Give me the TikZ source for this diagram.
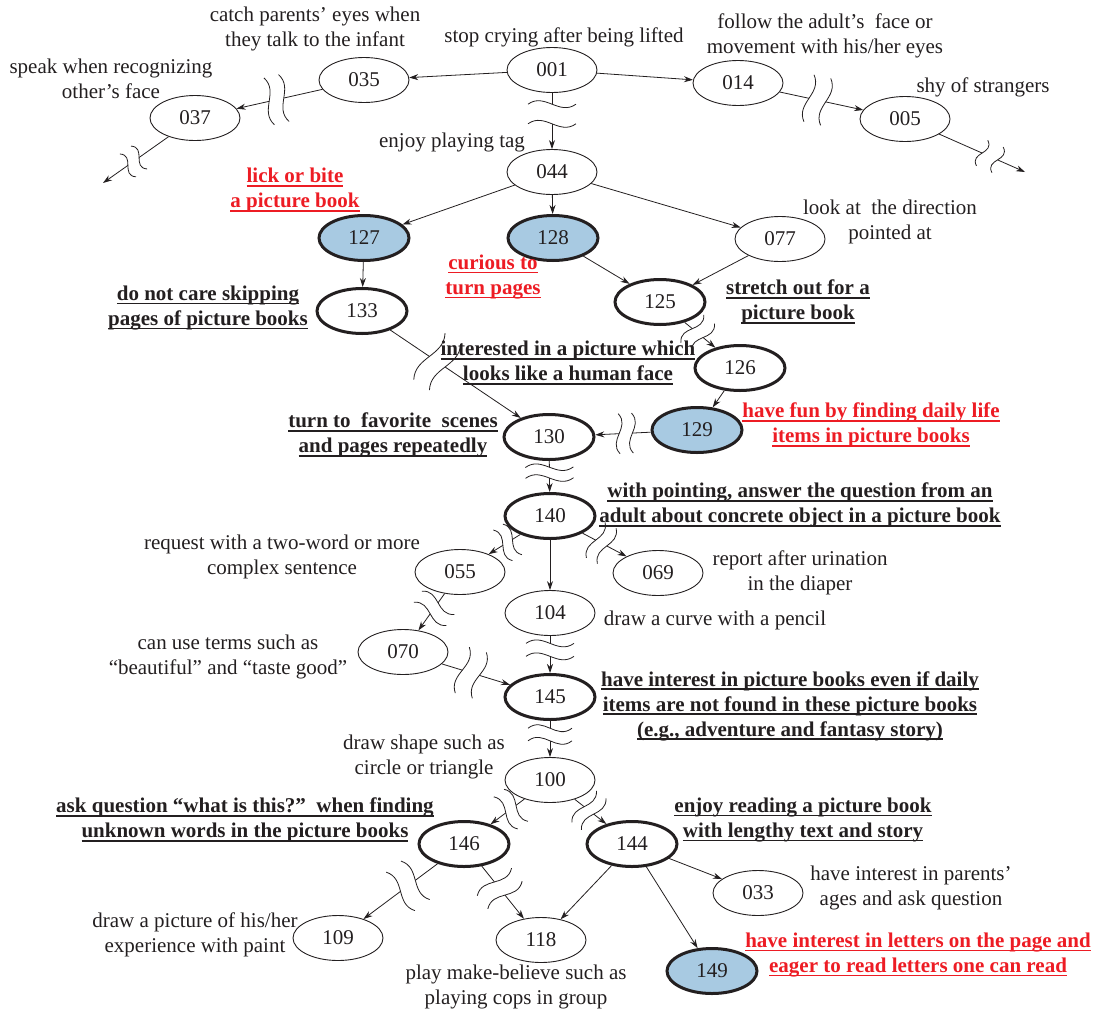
\documentclass[tikz,border=0pt]{standalone}
\usepackage{fontspec}
\setmainfont{Liberation Serif}
\usetikzlibrary{arrows.meta,shapes.geometric}
\definecolor{txt}{RGB}{35,31,32}
\definecolor{redt}{RGB}{237,28,36}
\definecolor{bluef}{RGB}{168,202,226}
\newcommand\ul[1]{\setbox0=\hbox{#1}\rlap{\rule[-4pt]{\wd0}{1.8pt}}\box0}
\tikzset{
 nd/.style={ellipse, draw=txt, line width=0.9pt, minimum width=90pt, minimum height=45pt, inner sep=0pt, font=\fontsize{21}{25}\selectfont, text=txt},
 thk/.style={nd, line width=3pt},
 hl/.style={thk, fill=bluef},
 lab/.style={align=center, font=\fontsize{21}{25}\selectfont, text=txt, inner sep=0pt},
 blab/.style={lab, font=\fontsize{21}{25}\selectfont\bfseries},
 rlab/.style={blab, text=redt},
 ln/.style={draw=txt, line width=0.8pt},
 arr/.style={ln, -{Stealth[length=9pt,width=6pt]}},
 pics/brk/.style={code={\draw[txt, line width=0.8pt] (0,-#1) .. controls (12,-0.3*#1) and (-12,0.3*#1) .. (0,#1);}},
 pics/brk/.default=22,
}
\newcommand\brkedge[5]{%
 \path (#1) -- (#2) coordinate[pos=#3] (#1#2a) coordinate[pos=#4] (#1#2b)
   pic[pos=#3,sloped]{brk=#5} pic[pos=#4,sloped]{brk=#5};
 \draw[ln] (#1) -- (#1#2a);
 \draw[arr] (#1#2b) -- (#2);
}
\begin{document}
\begin{tikzpicture}[x=1pt,y=-1pt]
\useasboundingbox (0,0) rectangle (1097,1012);
% nodes
\node[nd]  (n001) at (552,70) {001};
\node[nd]  (n035) at (364,80) {035};
\node[nd]  (n037) at (195,118) {037};
\node[nd]  (n014) at (738,83) {014};
\node[nd]  (n005) at (905,119) {005};
\node[nd]  (n044) at (552,172) {044};
\node[hl]  (n127) at (364,238) {127};
\node[hl]  (n128) at (553,238) {128};
\node[nd]  (n077) at (780,239) {077};
\node[thk] (n125) at (660,302) {125};
\node[thk] (n133) at (362,311) {133};
\node[thk] (n126) at (740,368) {126};
\node[hl]  (n129) at (697,430) {129};
\node[thk] (n130) at (549,437) {130};
\node[thk] (n140) at (550,516) {140};
\node[nd]  (n055) at (460,572) {055};
\node[nd]  (n069) at (658,573) {069};
\node[nd]  (n104) at (550,613) {104};
\node[nd]  (n070) at (403,652) {070};
\node[thk] (n145) at (550,697) {145};
\node[nd]  (n100) at (550,780) {100};
\node[thk] (n146) at (464,844) {146};
\node[thk] (n144) at (632,844) {144};
\node[nd]  (n033) at (758,893) {033};
\node[nd]  (n109) at (338,938) {109};
\node[nd]  (n118) at (541,940) {118};
\node[hl]  (n149) at (712,971) {149};
\coordinate (o037) at (103,183);
\coordinate (o005) at (1025,172);
% labels
\node[lab] (t001) at (564,37) {stop crying after being lifted};
\node[lab] (t035) at (315,29) {catch parents’ eyes when\\they talk to the infant};
\node[lab] (t037) at (111,79) {speak when recognizing\\other's face};
\node[lab] (t014) at (825,36) {follow the adult’s\ \ face or\\movement with his/her eyes};
\node[lab] (t005) at (983,87) {shy of strangers};
\node[lab] (t044) at (452,142) {enjoy playing tag};
\node[rlab] (t127) at (295,190) {\ul{lick or bite}\\\ul{a picture book}};
\node[rlab] (t128) at (493,277) {\ul{curious to}\\\ul{turn pages}};
\node[lab] (t077) at (890,222) {look at\ \ the direction\\pointed at};
\node[blab] (t125) at (798,302) {\ul{stretch out for a}\\\ul{picture book}};
\node[blab] (t133) at (208,308) {\ul{do not care skipping}\\\ul{pages of picture books}};
\node[blab] (t126) at (568,363) {\ul{interested in a picture which}\\\ul{looks like a human face}};
\node[rlab] (t129) at (871,425) {\ul{have fun by finding daily life}\\\ul{items in picture books}};
\node[blab] (t130) at (393,435) {\ul{turn to\ \ favorite\ \ scenes}\\\ul{and pages repeatedly}};
\node[blab] (t140) at (800,505) {\ul{with pointing, answer the question from an}\\\ul{adult about concrete object in a picture book}};
\node[lab] (t055) at (282,557) {request with a two-word or more\\complex sentence};
\node[lab] (t069) at (800,573) {report after urination\\in the diaper};
\node[lab] (t104) at (715,620) {draw a curve with a pencil};
\node[lab] (t070) at (228,657) {can use terms such as\\“beautiful” and “taste good”};
\node[blab] (t145) at (790,706) {\ul{have interest in picture books even if daily}\\\ul{items are not found in these picture books}\\\ul{(e.g., adventure and fantasy story)}};
\node[lab] (t100) at (424,757) {draw shape such as\\circle or triangle};
\node[blab] (t146) at (245,820) {\ul{ask question “what is this?”\ \ when finding}\\\ul{unknown words in the picture books}};
\node[blab] (t144) at (803,820) {\ul{enjoy reading a picture book}\\\ul{with lengthy text and story}};
\node[lab] (t033) at (911,888) {have interest in parents’\\ages and ask question};
\node[lab] (t109) at (195,935) {draw a picture of his/her\\experience with paint};
\node[lab] (t118) at (516,987) {play make-believe such as\\playing cops in group};
\node[rlab] (t149) at (918,955) {\ul{have interest in letters on the page and}\\\ul{eager to read letters one can read}};
% plain arrows
\draw[arr] (n001) -- (n035);
\draw[arr] (n001) -- (n014);
\draw[arr] (n044) -- (n127);
\draw[arr] (n044) -- (n128);
\draw[arr] (n044) -- (n077);
\draw[arr] (n127) -- (n133);
\draw[arr] (n128) -- (n125);
\draw[arr] (n077) -- (n125);
\draw[arr] (n126) -- (n129);
\draw[arr] (n140) -- (n104);
\draw[arr] (n144) -- (n118);
\draw[arr] (n144) -- (n033);
\draw[arr] (n144) -- (n149);
% broken arrows
\brkedge{n001}{n044}{0.2}{0.55}{24}
\brkedge{n035}{n037}{0.45}{0.62}{24}
\brkedge{n037}{o037}{0.45}{0.62}{14}
\brkedge{n014}{n005}{0.35}{0.55}{24}
\brkedge{n005}{o005}{0.5}{0.68}{14}
\brkedge{n125}{n126}{0.25}{0.6}{18}
\brkedge{n133}{n130}{0.3}{0.42}{28}
\brkedge{n129}{n130}{0.33}{0.57}{20}
\brkedge{n130}{n140}{0.2}{0.55}{24}
\brkedge{n140}{n055}{0.25}{0.55}{18}
\brkedge{n140}{n069}{0.3}{0.55}{20}
\brkedge{n055}{n070}{0.25}{0.55}{20}
\brkedge{n104}{n145}{0.2}{0.55}{24}
\brkedge{n070}{n145}{0.3}{0.55}{24}
\brkedge{n145}{n100}{0.2}{0.55}{22}
\brkedge{n100}{n146}{0.25}{0.55}{20}
\brkedge{n100}{n144}{0.3}{0.6}{20}
\brkedge{n146}{n109}{0.3}{0.5}{24}
\brkedge{n146}{n118}{0.3}{0.55}{22}
\end{tikzpicture}
\end{document}
